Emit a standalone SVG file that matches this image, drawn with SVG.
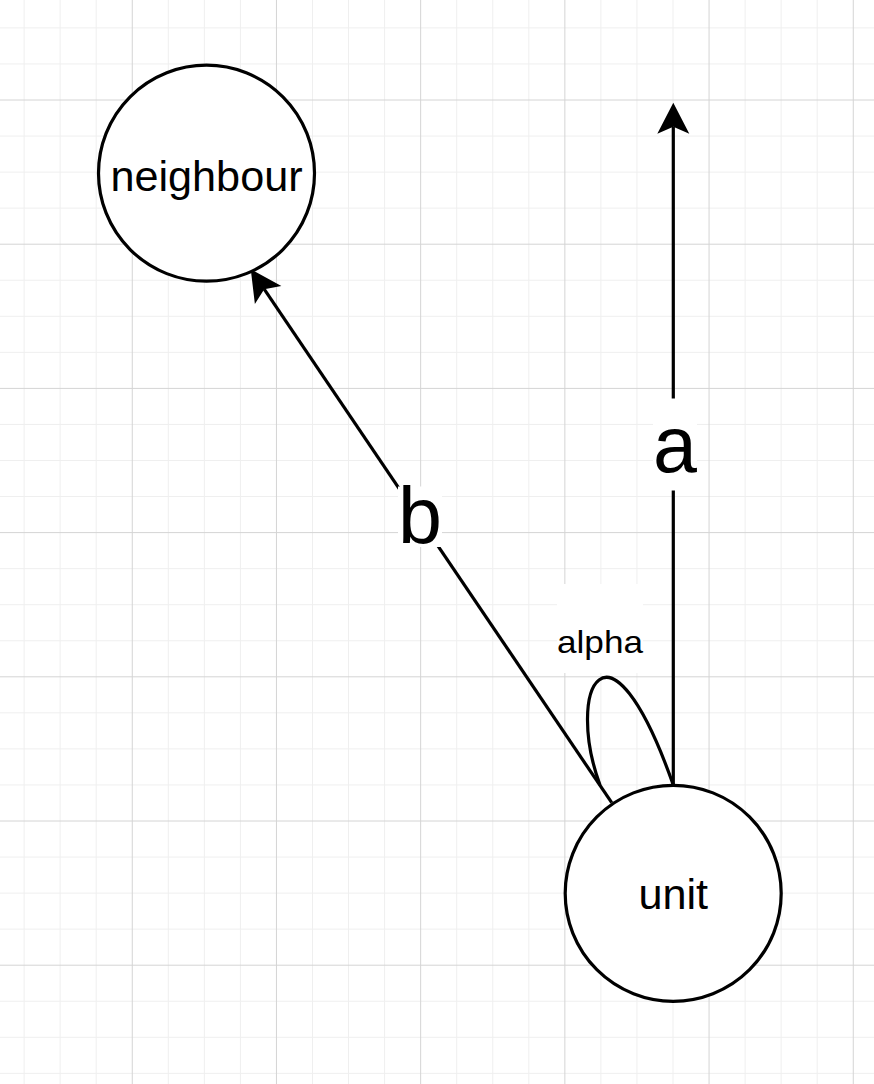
<svg xmlns="http://www.w3.org/2000/svg" width="874" height="1084" viewBox="0 0 874 1084">
<style>
.minor{stroke:#efefef;stroke-width:1;fill:none}
.major{stroke:#d4d4d4;stroke-width:1;fill:none}
.node{fill:#ffffff;stroke:#000000;stroke-width:3.2}
.edge{fill:none;stroke:#000000;stroke-width:3.2}
.lbl{font-family:"Liberation Sans",Arial,Helvetica,sans-serif;fill:#000000;text-anchor:middle}
.bg{fill:#ffffff;stroke:none}
</style>
<defs>
<marker id="arrow" markerUnits="userSpaceOnUse" markerWidth="32" markerHeight="32" refX="7" refY="16" orient="auto" overflow="visible">
<path d="M0,0 L31,16 L0,32 L7,16 Z" fill="#000000" stroke="none"/>
</marker>
</defs>
<rect x="0" y="0" width="874" height="1084" fill="#ffffff"/>
<g id="grid">
<path class="minor" d="M24.1,0V1084M60.15,0V1084M96.2,0V1084M168.3,0V1084M204.35,0V1084M240.4,0V1084M312.5,0V1084M348.55,0V1084M384.6,0V1084M456.7,0V1084M492.75,0V1084M528.8,0V1084M600.9,0V1084M636.95,0V1084M673,0V1084M745.1,0V1084M781.15,0V1084M817.2,0V1084M0,27.9H874M0,63.95H874M0,136.05H874M0,172.1H874M0,208.15H874M0,280.25H874M0,316.3H874M0,352.35H874M0,424.45H874M0,460.5H874M0,496.55H874M0,568.65H874M0,604.7H874M0,640.75H874M0,712.85H874M0,748.9H874M0,784.95H874M0,857.05H874M0,893.1H874M0,929.15H874M0,1001.25H874M0,1037.3H874M0,1073.35H874"/>
<path class="major" d="M132.25,0V1084M276.45,0V1084M420.65,0V1084M564.85,0V1084M709.05,0V1084M853.25,0V1084M0,100H874M0,244.2H874M0,388.4H874M0,532.6H874M0,676.8H874M0,821H874M0,965.2H874"/>
</g>
<g id="connectors">
<path id="edge-a" class="edge" d="M673.3,785 L673.3,126.7" marker-end="url(#arrow)"/>
<path id="edge-b" class="edge" d="M611.7,802.7 L264.2,289.2" marker-end="url(#arrow)"/>
<path id="edge-alpha" class="edge" d="M600,785 C565,690 608,600 673.3,785"/>
<rect class="bg" x="653" y="398.5" width="44" height="92"/>
<text class="lbl" x="675" y="471.7" font-size="79">a</text>
<rect class="bg" x="398" y="486.5" width="44" height="60.5"/>
<text class="lbl" x="420" y="543.3" font-size="79">b</text>
<rect class="bg" x="557" y="584" width="86" height="89"/>
<text class="lbl" x="600" y="652.5" font-size="32" textLength="86" lengthAdjust="spacingAndGlyphs">alpha</text>
</g>
<g id="neighbour">
<circle class="node" cx="206.5" cy="173.2" r="108"/>
<text class="lbl" x="206.5" y="190.7" font-size="43.2">neighbour</text>
</g>
<g id="unit">
<circle class="node" cx="673.2" cy="893.3" r="108"/>
<text class="lbl" x="673.2" y="909.3" font-size="43.2">unit</text>
</g>
</svg>
